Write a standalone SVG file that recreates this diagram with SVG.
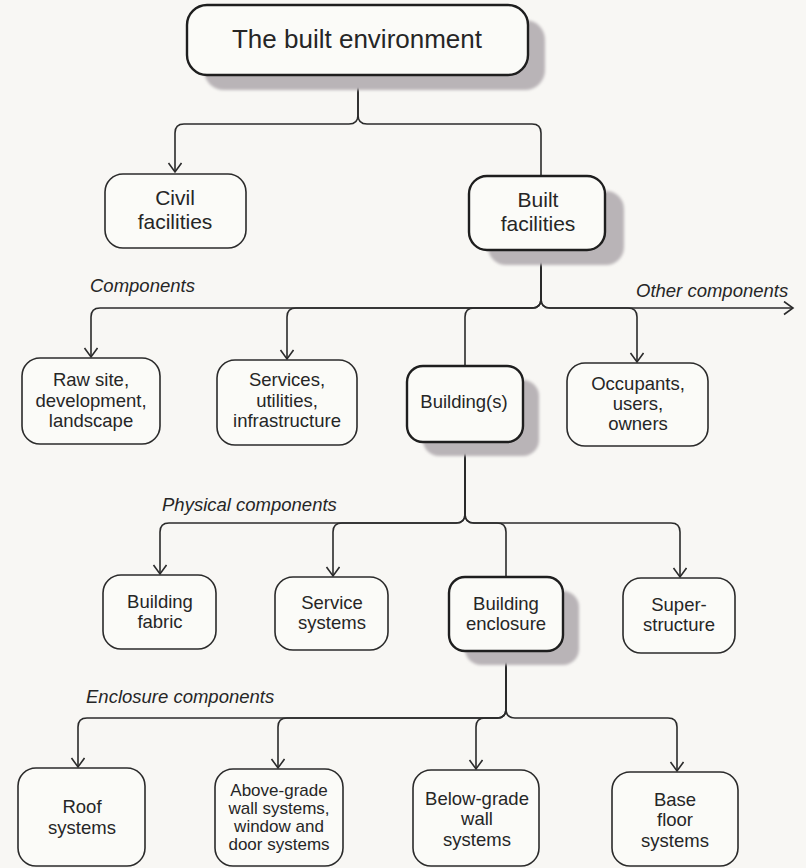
<svg xmlns="http://www.w3.org/2000/svg" width="806" height="868" viewBox="0 0 806 868">
<style>
.box{fill:#fbfbf8;stroke:#2b2b2b;stroke-width:1.6}
.hi{fill:#fbfbf8;stroke:#1e1e1e;stroke-width:2.4}
.sh{fill:#b9b4b7;filter:url(#soft)}
text{font-family:"Liberation Sans",Arial,sans-serif;fill:#262626;text-anchor:middle}
.t{font-size:18.5px}
.s{font-size:17px}
.m{font-size:21px}
.l{font-size:26px}
.it{font-size:18.5px;font-style:italic;text-anchor:start}
.c{fill:none;stroke:#2b2b2b;stroke-width:1.6}
.a{marker-end:url(#arr)}
</style>
<defs>
<filter id="soft" x="-10%" y="-10%" width="120%" height="120%"><feGaussianBlur stdDeviation="1.8"/></filter>
<marker id="arr" markerUnits="userSpaceOnUse" markerWidth="14" markerHeight="16" refX="10" refY="7" orient="auto">
<path d="M1,0.5 L10,7 L1,13.5" fill="none" stroke="#2b2b2b" stroke-width="1.6"/>
</marker>
</defs>
<rect width="806" height="868" fill="#f8f7f4"/>

<g id="connectors">
<path class="c a" d="M358,75 V115 Q358,124 349,124 H184 Q175,124 175,133 V172"/>
<path class="c" d="M358,75 V115 Q358,124 367,124 H532 Q541,124 541,133 V176"/>
<path class="c a" d="M541,250 V299 Q541,308 532,308 H100 Q91,308 91,317 V357"/>
<path class="c a" d="M541,250 V299 Q541,308 532,308 H296 Q287,308 287,317 V359"/>
<path class="c" d="M541,250 V299 Q541,308 532,308 H474 Q465,308 465,317 V366"/>
<path class="c a" d="M541,250 V299 Q541,308 550,308 H628 Q637,308 637,317 V362"/>
<path class="c a" d="M541,250 V299 Q541,308 550,308 H793"/>
<path class="c a" d="M465,442 V514 Q465,523 456,523 H169 Q160,523 160,532 V574"/>
<path class="c a" d="M465,442 V514 Q465,523 456,523 H342 Q333,523 333,532 V576"/>
<path class="c" d="M465,442 V514 Q465,523 474,523 H497 Q506,523 506,532 V577"/>
<path class="c a" d="M465,442 V514 Q465,523 474,523 H671 Q680,523 680,532 V577"/>
<path class="c a" d="M506,651 V709 Q506,718 497,718 H87 Q78,718 78,727 V767"/>
<path class="c a" d="M506,651 V709 Q506,718 497,718 H287 Q278,718 278,727 V768"/>
<path class="c a" d="M506,651 V709 Q506,718 497,718 H485 Q476,718 476,727 V769"/>
<path class="c a" d="M506,651 V709 Q506,718 515,718 H668 Q677,718 677,727 V771"/>
</g>

<g id="labels">
<text class="it" x="90" y="292">Components</text>
<text class="it" x="636" y="297">Other components</text>
<text class="it" x="162" y="511">Physical components</text>
<text class="it" x="86" y="703">Enclosure components</text>
</g>

<g id="n-built-environment">
<rect class="sh" x="204" y="20" width="341" height="70" rx="20"/>
<rect class="hi" x="187" y="5" width="341" height="70" rx="20"/>
<text class="l" x="357" y="48">The built environment</text>
</g>
<g id="n-civil">
<rect class="box" x="105" y="174" width="141" height="74" rx="18"/>
<text class="m" x="175" y="205">Civil</text>
<text class="m" x="175" y="229">facilities</text>
</g>
<g id="n-built-facilities">
<rect class="sh" x="488" y="191" width="136" height="74" rx="18"/>
<rect class="hi" x="469" y="176" width="136" height="74" rx="18"/>
<text class="m" x="538" y="207">Built</text>
<text class="m" x="538" y="231">facilities</text>
</g>
<g id="n-raw-site">
<rect class="box" x="22" y="358" width="138" height="86" rx="18"/>
<text class="t" x="91" y="386">Raw site,</text>
<text class="t" x="91" y="407">development,</text>
<text class="t" x="91" y="427">landscape</text>
</g>
<g id="n-services">
<rect class="box" x="217" y="360" width="140" height="85" rx="18"/>
<text class="t" x="287" y="386">Services,</text>
<text class="t" x="287" y="407">utilities,</text>
<text class="t" x="287" y="427">infrastructure</text>
</g>
<g id="n-buildings">
<rect class="sh" x="423" y="380" width="116" height="76" rx="16"/>
<rect class="hi" x="407" y="366" width="116" height="76" rx="16"/>
<text class="t" x="464" y="408">Building(s)</text>
</g>
<g id="n-occupants">
<rect class="box" x="567" y="363" width="141" height="83" rx="18"/>
<text class="t" x="638" y="390">Occupants,</text>
<text class="t" x="638" y="410">users,</text>
<text class="t" x="638" y="430">owners</text>
</g>
<g id="n-fabric">
<rect class="box" x="103" y="575" width="113" height="74" rx="18"/>
<text class="t" x="160" y="608">Building</text>
<text class="t" x="160" y="628">fabric</text>
</g>
<g id="n-service-systems">
<rect class="box" x="275" y="577" width="113" height="73" rx="18"/>
<text class="t" x="332" y="609">Service</text>
<text class="t" x="332" y="629">systems</text>
</g>
<g id="n-enclosure">
<rect class="sh" x="465" y="591" width="114" height="74" rx="16"/>
<rect class="hi" x="449" y="577" width="114" height="74" rx="16"/>
<text class="t" x="506" y="610">Building</text>
<text class="t" x="506" y="630">enclosure</text>
</g>
<g id="n-superstructure">
<rect class="box" x="623" y="578" width="112" height="75" rx="18"/>
<text class="t" x="679" y="611">Super-</text>
<text class="t" x="679" y="631">structure</text>
</g>
<g id="n-roof">
<rect class="box" x="18" y="768" width="127" height="98" rx="18"/>
<text class="t" x="82" y="813">Roof</text>
<text class="t" x="82" y="834">systems</text>
</g>
<g id="n-above-grade">
<rect class="box" x="215" y="769" width="128" height="97" rx="18"/>
<text class="s" x="279" y="796">Above-grade</text>
<text class="s" x="279" y="814">wall systems,</text>
<text class="s" x="279" y="832">window and</text>
<text class="s" x="279" y="850">door systems</text>
</g>
<g id="n-below-grade">
<rect class="box" x="413" y="770" width="126" height="96" rx="18"/>
<text class="t" x="477" y="805">Below-grade</text>
<text class="t" x="477" y="825">wall</text>
<text class="t" x="477" y="846">systems</text>
</g>
<g id="n-base-floor">
<rect class="box" x="612" y="772" width="126" height="94" rx="18"/>
<text class="t" x="675" y="806">Base</text>
<text class="t" x="675" y="826">floor</text>
<text class="t" x="675" y="847">systems</text>
</g>
</svg>
